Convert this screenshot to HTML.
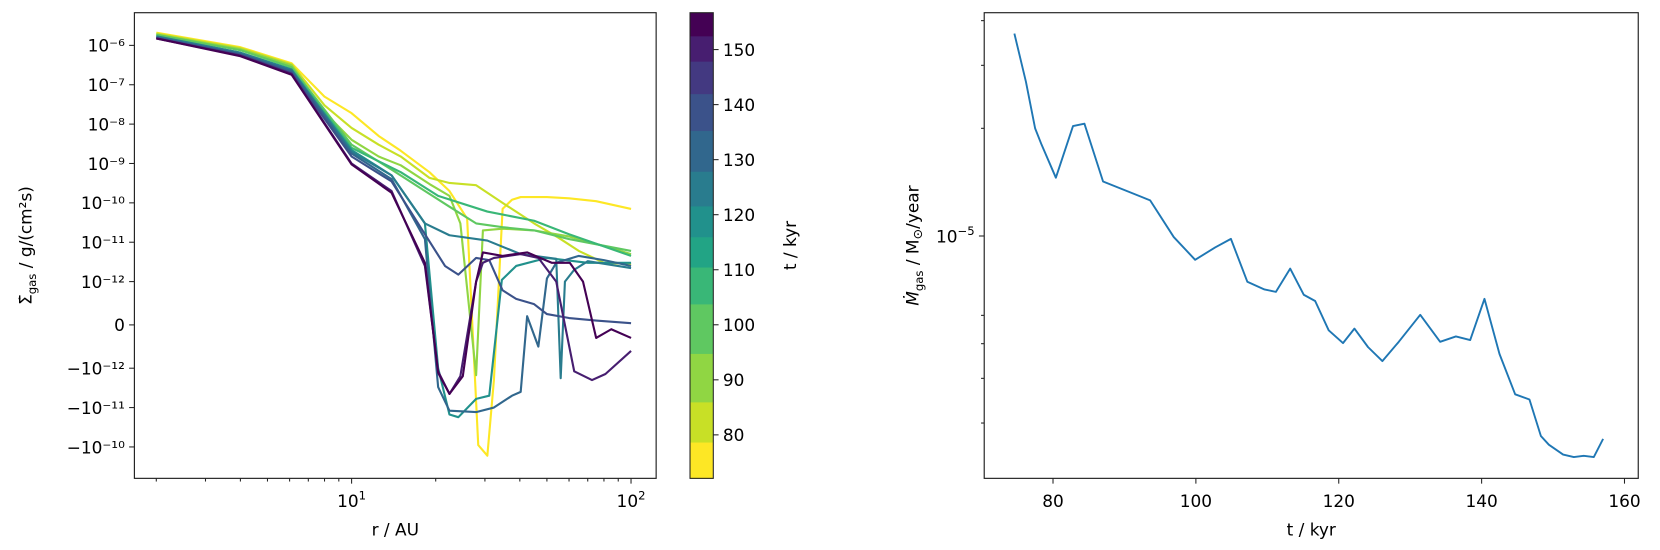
<!DOCTYPE html>
<html><head><meta charset="utf-8"><style>
body{margin:0;background:#fff;}
svg{display:block;font-family:"DejaVu Sans","Liberation Sans",sans-serif;}
</style></head><body>
<svg id="fig" width="1660" height="550" viewBox="0 0 1660 550" xmlns="http://www.w3.org/2000/svg">
<rect width="1660" height="550" fill="#fff"/>
<g transform="scale(1.0583)">
<g id="left"></g>
<g id="cbar"></g>
<g id="right"></g>
</g>
</svg>
<script>
// ---------- Left chart data ----------
const curveTimes = [75, 82, 90, 100, 110, 118, 127, 135, 142, 150, 157];
const curveR = [
 [2,4,6.1,8,10,12.5,15,19,22.4,25.9,28.4,30.6,32.3,34.7,37.5,40.3,50,60,75,100],
 [2,4,6.1,8,10,12.5,15,19,22.4,27.9,34.7,45,55,65,80,100],
 [2,4,6.1,8,10,12.5,15,19,22.4,24.5,27.9,29.5,34.7,45,60,80,100],
 [2,4,6.1,10,13.9,18.3,22.4,27.9,34.7,45,60,100],
 [2,4,6.1,10,15,20.4,30.6,45,60,100],
 [2,4,6.1,10,13.9,18.3,20.4,22.4,24.1,27.9,31.1,34.5,38.8,50,70,100],
 [2,4,6.1,10,13.9,18.3,22.4,30.6,40.3,54,56,58,62.6,70,100],
 [2,4,6.1,10,13.9,18.3,20.4,22.4,27.9,32.3,37.5,40.3,42.5,46.6,50,54,65,80,100],
 [2,4,6.1,10,13.9,18.3,21.6,24.1,27.9,31.1,34.7,38.8,45,50,60,75,100],
 [2,4,6.1,10,13.9,18.3,20.4,22.4,24.5,27.9,29.5,32.3,40.3,46.6,54,62.6,72.5,81,100],
 [2,4,6.1,10,13.9,18.3,20.4,22.4,25,27.9,29.5,34.7,42.5,52,60.4,67.3,75,85,100]
];
const curveSigma = [
 [2.1e-6,9e-7,3.5e-7,5e-8,1.9e-8,5e-9,2.1e-9,6e-10,2e-10,4e-11,-9e-11,-1.67e-10,-2e-12,7e-11,1.2e-10,1.4e-10,1.4e-10,1.3e-10,1.1e-10,7e-11],
 [2e-6,8.5e-7,3.3e-7,3e-8,8e-9,3e-9,1.5e-9,4.3e-10,3.2e-10,2.8e-10,1e-10,3e-11,1.3e-11,6e-12,3e-12,2.8e-12],
 [1.9e-6,8e-7,3.1e-7,2e-8,4e-9,1.5e-9,9e-10,3e-10,1.5e-10,3e-11,-1.5e-12,2e-11,2.2e-11,2e-11,1.4e-11,8e-12,5e-12],
 [1.85e-6,7.5e-7,2.8e-7,3e-9,7e-10,2e-10,8e-11,3e-11,2.4e-11,2e-11,1.2e-11,6e-12],
 [1.7e-6,6.5e-7,2.5e-7,2.5e-9,6e-10,1.5e-10,6e-11,3.5e-11,1.6e-11,4.5e-12],
 [1.65e-6,6e-7,2.3e-7,2.2e-9,5e-10,3e-11,-1e-12,-1.5e-11,-1.75e-11,-6e-12,-5e-12,1.1e-12,2.5e-12,4e-12,3e-12,3e-12],
 [1.7e-6,6.5e-7,2.4e-7,2e-9,5e-10,3e-11,1.5e-11,1.1e-11,5e-12,3.8e-12,-1.8e-12,1e-12,2e-12,3.3e-12,2.2e-12],
 [1.6e-6,6e-7,2.2e-7,1.8e-9,4e-10,1.2e-11,-3e-12,-1.2e-11,-1.3e-11,-1e-11,-5e-12,-4e-12,2e-13,-5e-13,1.2e-12,3e-12,4.5e-12,3.5e-12,2.5e-12],
 [1.55e-6,5.8e-7,2e-7,1.5e-9,3.5e-10,1.6e-11,2.5e-12,1.5e-12,4e-12,3.5e-12,0.8e-12,0.6e-12,0.48e-12,0.25e-12,0.16e-12,0.1e-12,0.04e-12],
 [1.5e-6,5.5e-7,1.9e-7,1e-9,2e-10,2.5e-12,-1.2e-12,-4.5e-12,-1.6e-12,1e-12,3e-12,4e-12,5e-12,4e-12,1e-12,-1.2e-12,-2e-12,-1.4e-12,-0.6e-12],
 [1.5e-6,5.3e-7,1.8e-7,9.5e-10,1.8e-10,3e-12,-1.3e-12,-4.5e-12,-1.6e-12,1e-12,5.5e-12,4.5e-12,5.5e-12,3e-12,3e-12,1e-12,-0.3e-12,-0.1e-12,-0.3e-12]
];
const yTickValues = [1e-6,1e-7,1e-8,1e-9,1e-10,1e-11,1e-12,0,-1e-12,-1e-11,-1e-10];
const yTickLabels = ["10⁻⁶","10⁻⁷","10⁻⁸","10⁻⁹","10⁻¹⁰","10⁻¹¹","10⁻¹²","0","−10⁻¹²","−10⁻¹¹","−10⁻¹⁰"];
const xMajor = [10,100];
const xMajorLabels = ["1","2"];
// ---------- Colorbar data ----------
const cbarBounds = [72.1,78.7,86,94.8,103.8,110.5,116,121.6,127.9,135.3,142,147.9,152.5,156.7];
const cbarTicks = [80,90,100,110,120,130,140,150];
// ---------- Right chart data ----------
const tKyr = [74.6,76.2,77.5,78.4,80.4,82.8,84.4,87.0,93.6,96.9,99.9,102.7,104.9,107.2,109.6,111.2,113.2,115.1,116.7,118.6,120.6,122.2,124.1,126.1,128.4,131.4,134.2,136.4,138.4,140.4,142.5,144.7,146.7,148.3,149.4,151.4,152.9,154.3,155.7,157.0];
const mdot = [3.68e-5,2.70e-5,2.00e-5,1.80e-5,1.456e-5,2.03e-5,2.06e-5,1.42e-5,1.258e-5,9.93e-6,8.58e-6,9.29e-6,9.82e-6,7.45e-6,7.09e-6,6.98e-6,8.11e-6,6.85e-6,6.58e-6,5.45e-6,5.02e-6,5.51e-6,4.89e-6,4.47e-6,5.06e-6,6.02e-6,5.06e-6,5.24e-6,5.12e-6,6.67e-6,4.68e-6,3.61e-6,3.49e-6,2.76e-6,2.61e-6,2.45e-6,2.41e-6,2.43e-6,2.41e-6,2.71e-6];
const rxTicks = [80,100,120,140,160];
const ryMinor = [3e-6,4e-6,5e-6,6e-6,2e-5,3e-5,4e-5];

const NS="http://www.w3.org/2000/svg";
function mk(parent,tag,attrs,text){const e=document.createElementNS(NS,tag);for(const k in attrs)e.setAttribute(k,attrs[k]);if(text!==undefined)e.textContent=text;parent.appendChild(e);return e;}
const vir=["#440154","#482475","#414487","#355f8d","#2a788e","#21918c","#22a884","#44bf70","#7ad151","#bddf26","#fde725"];
function hex(c){return [parseInt(c.substr(1,2),16),parseInt(c.substr(3,2),16),parseInt(c.substr(5,2),16)];}
function viridis(f){f=Math.max(0,Math.min(1,f));const p=f*10,i=Math.min(9,Math.floor(p)),u=p-i;const a=hex(vir[i]),b=hex(vir[i+1]);return "rgb("+a.map((v,k)=>Math.round(v+(b[k]-v)*u)).join(",")+")";}
const tMin=cbarBounds[0],tMax=cbarBounds[cbarBounds.length-1];
function bandColor(t){for(let i=0;i<cbarBounds.length-1;i++){if(t<=cbarBounds[i+1]||i==cbarBounds.length-2){const n=cbarBounds.length-2;return viridis(1-i/n);}}}

// ---------- Left axes ----------
const L={x0:127,x1:620,y0:12,y1:452};
const lx0=Math.log10(1.67),lx1=Math.log10(123);
function xL(r){return L.x0+(Math.log10(r)-lx0)/(lx1-lx0)*(L.x1-L.x0);}
const LIN=1.1,DEC=37.2,Y0=307;
function yL(v){let f;const a=Math.abs(v);if(a>=1e-12)f=Math.sign(v)*(Math.log10(a)+12+LIN);else f=v/1e-12*LIN;return Y0-f*DEC;}
const lg=document.getElementById('left');
const clip=mk(document.getElementById('fig'),'clipPath',{id:'lc'});mk(clip,'rect',{x:L.x0,y:L.y0,width:L.x1-L.x0,height:L.y1-L.y0});
const lines=mk(lg,'g',{'clip-path':'url(#lc)'});

curveTimes.forEach((t,ci)=>{
 const pts=curveR[ci].map((r,i)=>xL(r).toFixed(1)+","+yL(curveSigma[ci][i]).toFixed(1)).join(" ");
 const pl=mk(lines,'polyline',{points:pts,fill:'none',stroke:bandColor(t),'stroke-width':2,'stroke-linejoin':'round'});
 
 
});
mk(lg,'rect',{x:L.x0,y:L.y0,width:L.x1-L.x0,height:L.y1-L.y0,fill:'none',stroke:'#222','stroke-width':1.1});
yTickValues.forEach((v,i)=>{const y=yL(v);mk(lg,'line',{x1:L.x0-5,x2:L.x0,y1:y,y2:y,stroke:'#222'});
 const tx=mk(lg,'text',{x:L.x0-9,y:y+6,'text-anchor':'end','font-size':16},yTickLabels[i]);
 });
for(let d=1;d<=100;d*=10){for(let k=1;k<10;k++){const r=k*d;if(r<1.67||r>123)continue;const x=xL(r);const maj=k==1;
 mk(lg,'line',{x1:x,x2:x,y1:L.y1,y2:L.y1+(maj?5:3),stroke:'#222'});}}
xMajor.forEach((r,i)=>{const t=mk(lg,'text',{x:xL(r),y:L.y1+27,'text-anchor':'middle','font-size':16});
 
 t.appendChild(document.createTextNode('10'));mk(t,'tspan',{dy:-7,'font-size':11},xMajorLabels[i]);});
const xl=mk(lg,'text',{x:(L.x0+L.x1)/2,y:L.y1+54,'text-anchor':'middle','font-size':16},'r / AU');

const yl=mk(lg,'text',{transform:'translate(30,232) rotate(-90)','text-anchor':'middle','font-size':16});

yl.appendChild(document.createTextNode('Σ̇'));mk(yl,'tspan',{'font-size':11,dy:4},'gas');mk(yl,'tspan',{dy:-4},' / g/(cm²s)');

// ---------- Colorbar ----------
const C={x0:652,x1:674,y0:12,y1:452};
function yC(t){return C.y1-(t-tMin)/(tMax-tMin)*(C.y1-C.y0);}
const cg=document.getElementById('cbar');
for(let i=0;i<cbarBounds.length-1;i++){const n=cbarBounds.length-2;
 const b=mk(cg,'rect',{x:C.x0,y:yC(cbarBounds[i+1]),width:C.x1-C.x0,height:yC(cbarBounds[i])-yC(cbarBounds[i+1])+0.5,fill:viridis(1-i/n)});
 }
mk(cg,'rect',{x:C.x0,y:C.y0,width:C.x1-C.x0,height:C.y1-C.y0,fill:'none',stroke:'#222','stroke-width':1});
cbarTicks.forEach(t=>{const y=yC(t);mk(cg,'line',{x1:C.x1,x2:C.x1+5,y1:y,y2:y,stroke:'#222'});
 const tx=mk(cg,'text',{x:C.x1+9,y:y+6,'font-size':16},String(t));});
const cl=mk(cg,'text',{transform:'translate(752,232) rotate(-90)','text-anchor':'middle','font-size':16},'t / kyr');


// ---------- Right axes ----------
const R={x0:930,x1:1548,y0:12,y1:452};
function xR(t){return 995+(t-80)*6.75;}
function yR(v){return 223-(Math.log10(v)+5)*338;}
const rg=document.getElementById('right');
const rl=mk(rg,'polyline',{points:tKyr.map((t,i)=>xR(t).toFixed(1)+","+yR(mdot[i]).toFixed(1)).join(" "),fill:'none',stroke:'#1f77b4','stroke-width':1.8,'stroke-linejoin':'round'});

mk(rg,'rect',{x:R.x0,y:R.y0,width:R.x1-R.x0,height:R.y1-R.y0,fill:'none',stroke:'#222','stroke-width':1.1});
rxTicks.forEach(t=>{const x=xR(t);mk(rg,'line',{x1:x,x2:x,y1:R.y1,y2:R.y1+5,stroke:'#222'});
 const tx=mk(rg,'text',{x:x,y:R.y1+27,'text-anchor':'middle','font-size':16},String(t));});
ryMinor.forEach(v=>{const y=yR(v);mk(rg,'line',{x1:R.x0-3,x2:R.x0,y1:y,y2:y,stroke:'#222'});});
{const y=yR(1e-5);mk(rg,'line',{x1:R.x0-5,x2:R.x0,y1:y,y2:y,stroke:'#222'});
 const t=mk(rg,'text',{x:R.x0-9,y:y+6,'text-anchor':'end','font-size':16});
 t.appendChild(document.createTextNode('10'));mk(t,'tspan',{dy:-7,'font-size':11},'−5');}
const rxl=mk(rg,'text',{x:(R.x0+R.x1)/2,y:R.y1+54,'text-anchor':'middle','font-size':16},'t / kyr');

const ryl=mk(rg,'text',{transform:'translate(868,232) rotate(-90)','text-anchor':'middle','font-size':16});

mk(ryl,'tspan',{'font-style':'italic'},'Ṁ');mk(ryl,'tspan',{'font-size':11,dy:4},'gas');mk(ryl,'tspan',{dy:-4},' / M');mk(ryl,'tspan',{'font-size':12,dy:3},'⊙');mk(ryl,'tspan',{dy:-3},'/year');
</script>
</body></html>
